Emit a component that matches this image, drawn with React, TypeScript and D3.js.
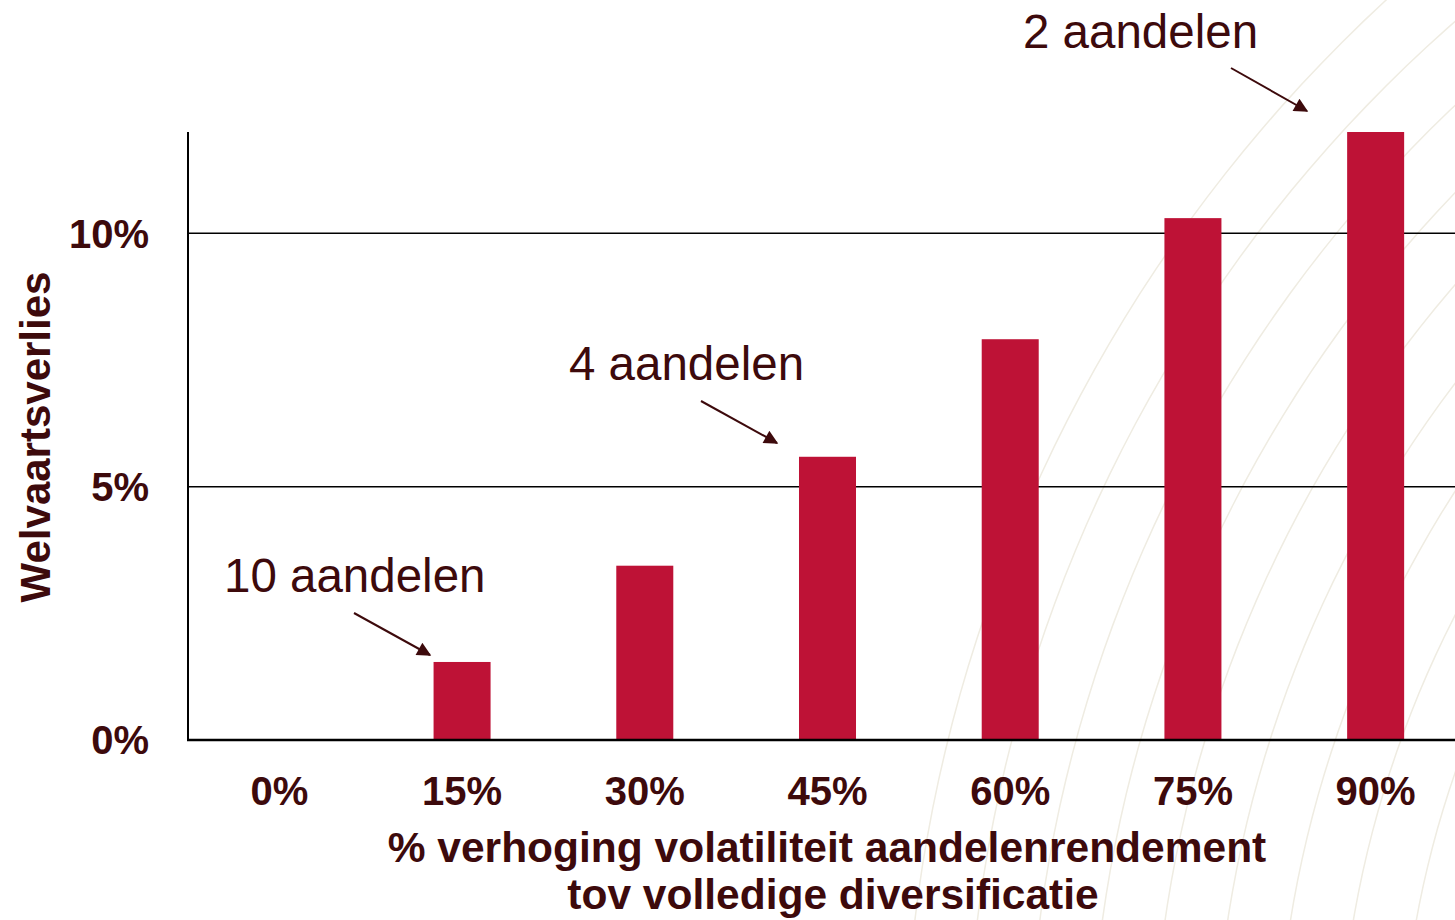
import React from "react";
import * as d3 from "d3";

const categories = ["0%", "15%", "30%", "45%", "60%", "75%", "90%"];
const values = [0, 1.54, 3.44, 5.59, 7.91, 10.3, 12.0];
const yTicks = [0, 5, 10];
const annotations = [
  { label: "10 aandelen", cat: "15%", tx: 224, ty: 592, x1: 354, y1: 613, x2: 430, y2: 655 },
  { label: "4 aandelen", cat: "45%", tx: 569, ty: 380, x1: 701, y1: 401, x2: 777, y2: 443 },
  { label: "2 aandelen", cat: "90%", tx: 1023, ty: 48, x1: 1231, y1: 68, x2: 1307, y2: 111 },
];
const xTitle = ["% verhoging volatiliteit aandelenrendement", "tov volledige diversificatie"];
const yTitle = "Welvaartsverlies";

const W = 1455, H = 920;
const left = 188, right = 1467, top = 132, bottom = 740;
const TEXT = "#3d0a0c";
const BAR = "#be1236";
const FONT = "Arial, 'Liberation Sans', Helvetica, sans-serif";

export default function App() {
  const x = d3.scaleBand().domain(categories).range([left, right]).paddingInner(0.688).paddingOuter(0.344);
  const y = d3.scaleLinear().domain([0, 12]).range([bottom, top]);

  // decorative faint arcs in background (right side)
  const arcs = d3.range(0, 9).map((i) => {
    const r = 1000 + i * 62;
    const cx = 2400, cy = 1100;
    const pts = d3.range(0, 81).map((k) => {
      const a = Math.PI + (k / 80) * (Math.PI / 2);
      return [cx + r * Math.cos(a), cy + r * Math.sin(a)] as [number, number];
    });
    return d3.line()(pts) as string;
  });

  return (
    <svg width={W} height={H} style={{ position: "absolute", left: 0, top: 0, background: "#fff" }} fontFamily={FONT}>
      <defs>
        <marker id="ah" viewBox="0 0 10 10" refX="9" refY="5" markerWidth="8" markerHeight="7" orient="auto">
          <path d="M0,0 L10,5 L0,10 z" fill={TEXT} />
        </marker>
      </defs>
      <rect width={W} height={H} fill="#fff" />
      <g fill="none" stroke="#efece2" strokeWidth={1.5}>
        {arcs.map((d, i) => <path key={i} d={d} />)}
      </g>
      {yTicks.filter((t) => t > 0).map((t) => (
        <line key={t} x1={left} x2={W} y1={y(t)} y2={y(t)} stroke="#000" strokeWidth={1.5} />
      ))}
      {categories.map((c, i) => values[i] > 0 ? (
        <rect key={c} x={x(c)} y={y(values[i])} width={x.bandwidth()} height={y(0) - y(values[i])} fill={BAR} />
      ) : null)}
      <line x1={left} x2={left} y1={top} y2={bottom + 1} stroke="#000" strokeWidth={2} />
      <line x1={left - 1} x2={W} y1={bottom} y2={bottom} stroke="#000" strokeWidth={2.5} />
      {yTicks.map((t) => (
        <text key={t} x={149} y={y(t)} dy="0.36em" textAnchor="end" fontWeight="bold" fontSize={40} fill={TEXT}>
          {t + "%"}
        </text>
      ))}
      {categories.map((c) => (
        <text key={c} x={(x(c) as number) + x.bandwidth() / 2} y={805} textAnchor="middle" fontWeight="bold" fontSize={40} fill={TEXT}>
          {c}
        </text>
      ))}
      <text x={827} y={862} textAnchor="middle" fontWeight="bold" fontSize={42.5} fill={TEXT}>{xTitle[0]}</text>
      <text x={833} y={909} textAnchor="middle" fontWeight="bold" fontSize={42.5} fill={TEXT}>{xTitle[1]}</text>
      <text transform="translate(50,437) rotate(-90)" textAnchor="middle" fontWeight="bold" fontSize={42} fill={TEXT}>{yTitle}</text>
      {annotations.map((a) => (
        <g key={a.label}>
          <text x={a.tx} y={a.ty} fontSize={47.5} fill={TEXT}>{a.label}</text>
          <line x1={a.x1} y1={a.y1} x2={a.x2} y2={a.y2} stroke={TEXT} strokeWidth={2} markerEnd="url(#ah)" />
        </g>
      ))}
    </svg>
  );
}
